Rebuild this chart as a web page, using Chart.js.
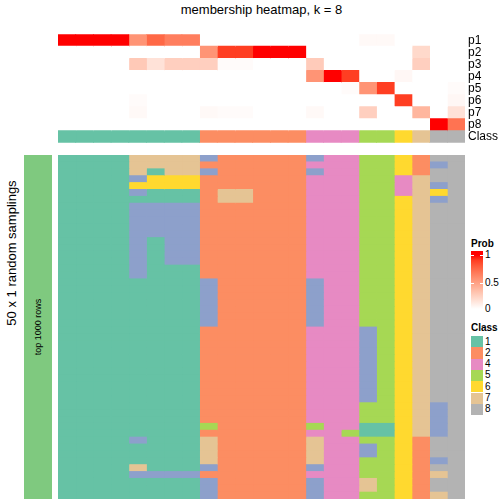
<!DOCTYPE html>
<html>
<head>
<meta charset="utf-8">
<script src="https://cdn.jsdelivr.net/npm/chart.js@4.4.1/dist/chart.umd.min.js"></script>
<style>
  body { margin: 0; width: 504px; height: 504px; position: relative; background: #fff; overflow: hidden;
         font-family: "Liberation Sans", Arial, sans-serif; color: #000; }
  .abs { position: absolute; }
  .rot { position: absolute; transform: rotate(-90deg); transform-origin: 50% 50%; text-align: center; white-space: nowrap; }
  .lg { position: absolute; font-size: 10px; line-height: 12px; }
</style>
</head>
<body>
<div class="abs" style="left:58px;top:2px;width:407px;text-align:center;font-size:13px;line-height:16px">membership heatmap, k = 8</div>
<canvas id="probChart" class="abs" width="446" height="129" style="left:58px;top:24px"></canvas>
<canvas id="sampleChart" class="abs" width="407" height="344" style="left:58px;top:155px"></canvas>
<div class="abs" style="left:24px;top:155px;width:28px;height:344px;background:#7FC97F"></div>
<div class="rot" style="left:-88px;top:245px;width:200px;height:16px;line-height:16px;font-size:13px">50 x 1 random samplings</div>
<div class="rot" style="left:-12px;top:321px;width:100px;height:12px;line-height:12px;font-size:9px">top 1000 rows</div>
<div id="legend"></div>
<script>
// class colours (Set2)
const classColors = { 1: '#66C2A5', 2: '#FC8D62', 3: '#8DA0CB', 4: '#E78AC3', 5: '#A6D854', 6: '#FFD92F', 7: '#E5C494', 8: '#B3B3B3' };
const legendClasses = ['1', '2', '4', '5', '6', '7', '8'];

// membership probabilities, one array per class row, 23 columns
const rowLabels = ['p1', 'p2', 'p3', 'p4', 'p5', 'p6', 'p7', 'p8', 'Class'];
const p1 = [1, 1, 1, 1, 0.55, 0.75, 0.65, 0.65, 0, 0, 0, 0, 0, 0, 0, 0, 0, 0.03, 0.03, 0, 0, 0, 0];
const p2 = [0, 0, 0, 0, 0, 0, 0, 0, 0.55, 0.9, 0.9, 1, 1, 1, 0, 0, 0, 0, 0, 0, 0.2, 0, 0];
const p3 = [0, 0, 0, 0, 0.28, 0.15, 0.25, 0.25, 0.25, 0.02, 0.02, 0, 0, 0, 0.27, 0, 0, 0, 0, 0, 0.25, 0, 0];
const p4 = [0, 0, 0, 0, 0, 0, 0, 0, 0, 0, 0, 0, 0, 0, 0.55, 1, 0.9, 0, 0, 0.04, 0, 0, 0];
const p5 = [0, 0, 0, 0, 0, 0, 0, 0, 0, 0, 0, 0, 0, 0, 0, 0, 0.02, 0.55, 0.9, 0, 0, 0, 0.02];
const p6 = [0, 0, 0, 0, 0.02, 0, 0, 0, 0, 0, 0, 0, 0, 0, 0, 0, 0, 0, 0, 0.9, 0, 0, 0.04];
const p7 = [0, 0, 0, 0, 0.03, 0, 0, 0, 0.03, 0.02, 0.02, 0, 0, 0, 0.03, 0, 0, 0.25, 0, 0, 0.38, 0, 0.15];
const p8 = [0, 0, 0, 0, 0, 0, 0, 0, 0, 0, 0, 0, 0, 0, 0, 0, 0, 0, 0, 0, 0, 1, 0.7];
const columnClass = [1, 1, 1, 1, 1, 1, 1, 1, 2, 2, 2, 2, 2, 2, 4, 4, 4, 5, 5, 6, 7, 8, 8];

// 50 random samplings, class of each of the 23 columns
const samplings = [
  '11117777322222344556288',
  '11117777222222444556238',
  '11117177322222344556288',
  '11113666222222444554788',
  '11116666222222444554738',
  '11113111277222444554768',
  '11111111277222444556738',
  '11113333222222444556788',
  '11113333222222444556788',
  '11113333222222444556788',
  '11113333222222444556788',
  '11113333222222444556788',
  '11113133222222444556788',
  '11113133222222444556788',
  '11113133222222444556788',
  '11113133222222444556788',
  '11113111222222444556788',
  '11113111222222444556788',
  '11111111322222344556788',
  '11111111322222344556788',
  '11111111322222344556788',
  '11111111322222344556788',
  '11111111322222344556788',
  '11111111322222344556788',
  '11111111322222344556788',
  '11111111222222444356788',
  '11111111222222444356788',
  '11111111222222444356788',
  '11111111222222444356788',
  '11111111222222444356788',
  '11111111222222444356788',
  '11111111222222444356788',
  '11111111222222444356788',
  '11111111222222444356788',
  '11111111222222444356788',
  '11111111222222444356788',
  '11111111222222444556738',
  '11111111222222444556738',
  '11111111222222444556738',
  '11111111522222544116738',
  '11111111222222445116738',
  '11113111722222744556288',
  '11111111722222744356288',
  '11111111722222744356288',
  '11111111722222744556238',
  '11117111322222344556288',
  '11113333222222444556278',
  '11111111322222344756288',
  '11111111322222344756288',
  '11111111322222344556278'
];

// white -> red ramp interpolated in LAB space
function labToHex(L, a, b) {
  const fy = (L + 16) / 116, fx = fy + a / 500, fz = fy - b / 200;
  const f = t => t > 0.206893 ? t * t * t : (t - 16 / 116) / 7.787;
  const X = 0.95047 * f(fx), Y = f(fy), Z = 1.08883 * f(fz);
  const lin = [3.2406 * X - 1.5372 * Y - 0.4986 * Z,
               -0.9689 * X + 1.8758 * Y + 0.0415 * Z,
               0.0557 * X - 0.2040 * Y + 1.0570 * Z];
  return '#' + lin.map(c => {
    c = Math.min(1, Math.max(0, c));
    c = c <= 0.0031308 ? 12.92 * c : 1.055 * Math.pow(c, 1 / 2.4) - 0.055;
    return Math.round(c * 255).toString(16).padStart(2, '0');
  }).join('');
}
function probColor(v) {
  return labToHex(100 + (53.2408 - 100) * v, 80.0925 * v, 67.2032 * v);
}

const probRows = [p1, p2, p3, p4, p5, p6, p7, p8];
const nCol = columnClass.length;

// top heatmap: probability rows + class annotation
const topSets = [];
for (let j = 0; j < nCol; j++) {
  const colors = probRows.map(r => probColor(r[j]));
  colors.push(classColors[columnClass[j]]);
  topSets.push({ data: rowLabels.map(() => 1), backgroundColor: colors, borderWidth: 0,
                 barPercentage: 1, categoryPercentage: 1, inflateAmount: 0.4 });
}

new Chart(document.getElementById('probChart'), {
  type: 'bar',
  data: { labels: rowLabels, datasets: topSets },
  options: {
    indexAxis: 'y',
    responsive: false,
    animation: false,
    devicePixelRatio: 1,
    layout: { padding: 0 },
    plugins: { legend: { display: false }, tooltip: { enabled: false } },
    scales: {
      x: { stacked: true, min: 0, max: nCol, display: false },
      y: {
        stacked: true,
        position: 'right',
        grid: { display: false, drawTicks: false },
        border: { display: false },
        ticks: { color: '#000', font: { size: 12, family: 'Liberation Sans' }, padding: 3, autoSkip: false },
        afterFit: scale => { scale.width = 39; }
      }
    }
  }
});

// bottom heatmap: class per sampling
const sampleLabels = samplings.map((s, i) => String(i + 1));
const bottomSets = [];
for (let j = 0; j < nCol; j++) {
  bottomSets.push({
    data: samplings.map(() => 1),
    backgroundColor: samplings.map(s => classColors[s[j]]),
    borderWidth: 0, barPercentage: 1, categoryPercentage: 1, inflateAmount: 0.4
  });
}

new Chart(document.getElementById('sampleChart'), {
  type: 'bar',
  data: { labels: sampleLabels, datasets: bottomSets },
  options: {
    indexAxis: 'y',
    responsive: false,
    animation: false,
    devicePixelRatio: 1,
    layout: { padding: 0 },
    plugins: { legend: { display: false }, tooltip: { enabled: false } },
    scales: {
      x: { stacked: true, min: 0, max: nCol, display: false },
      y: { stacked: true, display: false }
    }
  }
});

// legends
const lg = document.getElementById('legend');
let html = '<div class="lg" style="left:471px;top:238px;font-weight:bold">Prob</div>';
const stops = [];
for (let k = 0; k <= 10; k++) stops.push(probColor(1 - k / 10) + ' ' + (7 + k * 9.3).toFixed(1) + '%');
html += '<div class="abs" style="left:471px;top:251px;width:12px;height:58px;background:linear-gradient(to bottom,#ff0000 0%,' + stops.join(',') + ')"></div>';
[[255, '1'], [283, '0.5']].forEach(([y]) => {
  html += '<div class="abs" style="left:471px;top:' + y + 'px;width:3px;height:1px;background:#fff"></div>';
  html += '<div class="abs" style="left:480px;top:' + y + 'px;width:3px;height:1px;background:#fff"></div>';
});
[[255, '1'], [283, '0.5'], [309, '0']].forEach(([y, t]) => {
  html += '<div class="lg" style="left:485px;top:' + (y - 6) + 'px">' + t + '</div>';
});
html += '<div class="lg" style="left:471px;top:322px;font-weight:bold">Class</div>';
legendClasses.forEach((c, i) => {
  const y = 336 + i * 11.3;
  html += '<div class="abs" style="left:471px;top:' + y + 'px;width:12px;height:11.3px;background:' + classColors[c] + '"></div>';
  html += '<div class="lg" style="left:485px;top:' + (y - 0.5) + 'px">' + c + '</div>';
});
lg.innerHTML = html;
</script>
</body>
</html>
